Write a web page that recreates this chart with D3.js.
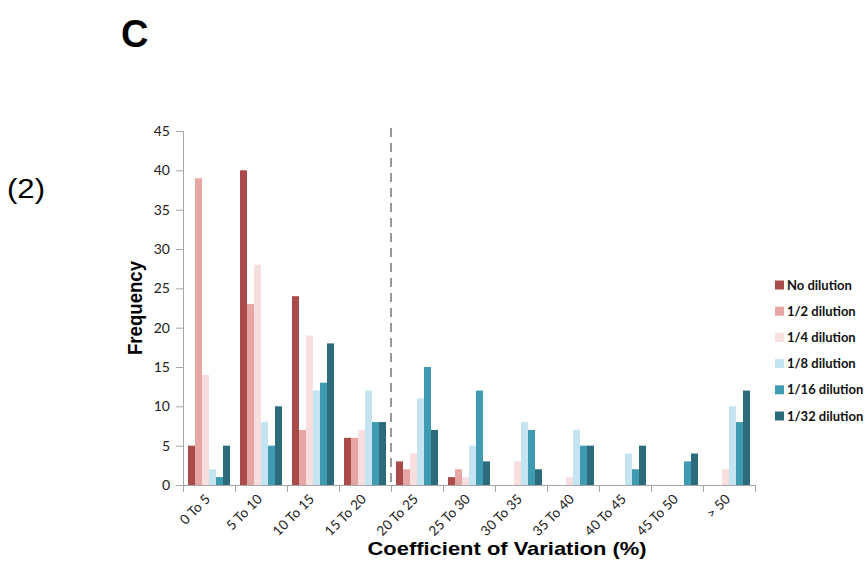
<!DOCTYPE html>
<html>
<head>
<meta charset="utf-8">
<script src="https://cdn.jsdelivr.net/npm/d3@7"></script>
<style>
  html, body { margin: 0; padding: 0; background: #fff; }
  svg { display: block; }
</style>
</head>
<body>
<svg id="chart" width="868" height="570"></svg>
<script>
// Frequency of coefficient-of-variation bins per dilution level
const categories = ["0 To 5", "5 To 10", "10 To 15", "15 To 20", "20 To 25", "25 To 30",
                    "30 To 35", "35 To 40", "40 To 45", "45 To 50", "> 50"];
const seriesNames = ["No dilution", "1/2 dilution", "1/4 dilution", "1/8 dilution", "1/16 dilution", "1/32 dilution"];
const noDilution   = [5, 40, 24, 6, 3, 1, 0, 0, 0, 0, 0];
const dilution2    = [39, 23, 7, 6, 2, 2, 0, 0, 0, 0, 0];
const dilution4    = [14, 28, 19, 7, 4, 1, 3, 1, 0, 0, 2];
const dilution8    = [2, 8, 12, 12, 11, 5, 8, 7, 4, 0, 10];
const dilution16   = [1, 5, 13, 8, 15, 12, 7, 5, 2, 3, 8];
const dilution32   = [5, 10, 18, 8, 7, 3, 2, 5, 5, 4, 12];
const seriesValues = [noDilution, dilution2, dilution4, dilution8, dilution16, dilution32];
const seriesColors = ["#a94b48", "#e5a6a4", "#f7dfdf", "#c4e4ef", "#3f9bb2", "#2b6b7b"];
const yTicks = [0, 5, 10, 15, 20, 25, 30, 35, 40, 45];
const cutoffIndex = 4; // dashed separator sits before "20 To 25"

const svg = d3.select("#chart");
const plot = { left: 183, right: 755, top: 131, bottom: 485 };

const x0 = d3.scaleBand().domain(categories).range([plot.left, plot.right]).padding(0);
const x1 = d3.scaleBand().domain(seriesNames).range([5, x0.bandwidth() - 5]).padding(0);
const y = d3.scaleLinear().domain([0, 45]).range([plot.bottom, plot.top]);

// Bars
const groups = svg.append("g").selectAll("g")
  .data(categories)
  .join("g")
  .attr("transform", d => `translate(${x0(d)},0)`);

groups.selectAll("rect")
  .data((c, i) => seriesNames.map((s, k) => ({ s, k, v: seriesValues[k][i] })))
  .join("rect")
  .filter(d => d.v > 0)
  .attr("x", d => x1(d.s))
  .attr("y", d => y(d.v))
  .attr("width", x1.bandwidth())
  .attr("height", d => y(0) - y(d.v))
  .attr("fill", (d) => seriesColors[d.k]);

// Y axis
const yAxis = svg.append("g")
  .attr("transform", `translate(${plot.left},0)`)
  .call(d3.axisLeft(y).tickValues(yTicks).tickSize(7).tickPadding(6));
yAxis.select(".domain").attr("stroke", "#a6a6a6");
yAxis.selectAll(".tick line").attr("stroke", "#a6a6a6");
yAxis.selectAll(".tick text")
  .attr("font-family", "Lato, 'Open Sans', sans-serif")
  .attr("font-size", 14)
  .attr("fill", "#222");

// X axis: ticks on category boundaries
const boundaries = d3.range(categories.length + 1).map(i => plot.left + i * x0.step());
const xAxisG = svg.append("g");
xAxisG.append("line")
  .attr("x1", plot.left).attr("x2", plot.right)
  .attr("y1", plot.bottom + 0.5).attr("y2", plot.bottom + 0.5)
  .attr("stroke", "#a6a6a6");
xAxisG.selectAll("line.tk")
  .data(boundaries)
  .join("line")
  .attr("class", "tk")
  .attr("x1", d => Math.round(d) + 0.5).attr("x2", d => Math.round(d) + 0.5)
  .attr("y1", plot.bottom).attr("y2", plot.bottom + 7)
  .attr("stroke", "#a6a6a6");
xAxisG.selectAll("text")
  .data(categories)
  .join("text")
  .attr("transform", d => `translate(${x0(d) + x0.bandwidth() / 2 + 2},${plot.bottom + 15}) rotate(-45)`)
  .attr("text-anchor", "end")
  .attr("font-family", "Lato, 'Open Sans', sans-serif")
  .attr("font-size", 13.5)
  .attr("fill", "#222")
  .text(d => d);

// Dashed separator
const cutX = plot.left + cutoffIndex * x0.step();
svg.append("line")
  .attr("x1", cutX).attr("x2", cutX)
  .attr("y1", 128).attr("y2", plot.bottom)
  .attr("stroke", "#999")
  .attr("stroke-width", 2)
  .attr("stroke-dasharray", "9,6");

// Axis titles
svg.append("text")
  .attr("transform", `translate(141.5,${(plot.top + plot.bottom) / 2}) rotate(-90)`)
  .attr("text-anchor", "middle")
  .attr("font-family", "'Liberation Sans', Arial, sans-serif")
  .attr("font-weight", "bold")
  .attr("font-size", 20.5)
  .attr("textLength", 94)
  .attr("lengthAdjust", "spacingAndGlyphs")
  .text("Frequency");

svg.append("text")
  .attr("x", 507).attr("y", 555)
  .attr("text-anchor", "middle")
  .attr("font-family", "'Liberation Sans', Arial, sans-serif")
  .attr("font-weight", "bold")
  .attr("font-size", 19)
  .attr("textLength", 279)
  .attr("lengthAdjust", "spacingAndGlyphs")
  .text("Coefficient of Variation (%)");

// Panel labels
svg.append("text")
  .attr("x", 121).attr("y", 47)
  .attr("font-family", "'Liberation Sans', Arial, sans-serif")
  .attr("font-weight", "bold")
  .attr("font-size", 38)
  .text("C");

svg.append("text")
  .attr("x", 7).attr("y", 198)
  .attr("font-family", "'Liberation Sans', Arial, sans-serif")
  .attr("font-size", 27)
  .attr("textLength", 38)
  .attr("lengthAdjust", "spacingAndGlyphs")
  .text("(2)");

// Legend
const legend = svg.append("g").selectAll("g")
  .data(seriesNames)
  .join("g")
  .attr("transform", (d, i) => `translate(775,${285 + i * 26.2})`);
legend.append("rect")
  .attr("x", 0).attr("y", -4.5)
  .attr("width", 9).attr("height", 9)
  .attr("fill", (d, i) => seriesColors[i]);
legend.append("text")
  .attr("x", 12).attr("y", 4.5)
  .attr("font-family", "Lato, 'Open Sans', sans-serif")
  .attr("font-weight", "bold")
  .attr("font-size", 13)
  .attr("fill", "#111")
  .text(d => d);
</script>
</body>
</html>
